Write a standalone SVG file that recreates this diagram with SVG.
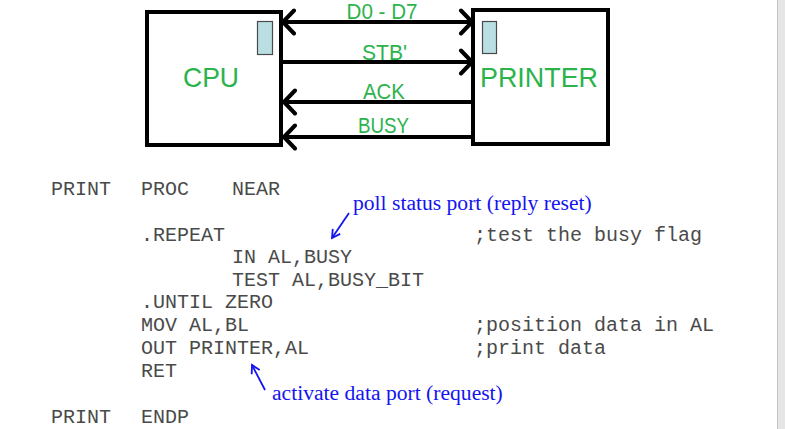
<svg xmlns="http://www.w3.org/2000/svg" width="785" height="429" viewBox="0 0 785 429">
<style>
.box{fill:#fff;stroke:#000;stroke-width:4}
.port{fill:#b9dfe2;stroke:#4a4a4a;stroke-width:1.2}
.big{font-family:"Liberation Sans",Arial,sans-serif;font-size:28px;fill:#2bb34c}
.lbl{font-family:"Liberation Sans",Arial,sans-serif;font-size:22px;fill:#2bb34c;text-anchor:middle}
.wire{stroke:#000;stroke-width:4;fill:none}
.code{font-family:"Liberation Mono","Courier New",monospace;font-size:20px;fill:#4a4a4a;white-space:pre}
.note{font-family:"Liberation Serif","Times New Roman",serif;font-size:21.6px;fill:#1414f0}
.narrow{stroke:#1414f0;stroke-width:1.8;fill:none}
</style>
<defs>
<marker id="chev" viewBox="-14 -14 16 28" markerWidth="16" markerHeight="28" refX="0" refY="0" orient="auto-start-reverse" markerUnits="userSpaceOnUse">
<path d="M-11,-11.5 L0,0 L-11,11.5" fill="none" stroke="#000" stroke-width="4" stroke-linecap="round" stroke-linejoin="round"/>
</marker>
<marker id="bhead" viewBox="-10 -7 12 14" markerWidth="12" markerHeight="14" refX="0" refY="0" orient="auto" markerUnits="userSpaceOnUse">
<path d="M-8,-4.5 L0,0 L-8,4.5" fill="none" stroke="#1414f0" stroke-width="1.8" stroke-linejoin="miter"/>
</marker>
</defs>
<rect width="785" height="429" fill="#fff"/>
<rect x="777" y="0" width="8" height="429" fill="#e6e6e6"/>
<line x1="777.5" y1="0" x2="777.5" y2="429" stroke="#c4c4c4" stroke-width="1"/>

<g id="cpu">
<rect class="box" x="147" y="12" width="134" height="133"/>
<rect class="port" x="257.5" y="21.5" width="15" height="33"/>
<text class="big" x="183" y="87" textLength="56" lengthAdjust="spacingAndGlyphs">CPU</text>
</g>
<g id="printer">
<rect class="box" x="473" y="10" width="135" height="134"/>
<rect class="port" x="482.5" y="21.5" width="14" height="32"/>
<text class="big" x="480" y="87" textLength="118" lengthAdjust="spacingAndGlyphs">PRINTER</text>
</g>

<g id="connectors">
<line class="wire" x1="283" y1="22" x2="472" y2="22" marker-start="url(#chev)" marker-end="url(#chev)"/>
<line class="wire" x1="283" y1="62" x2="472" y2="62" marker-end="url(#chev)"/>
<line class="wire" x1="471" y1="102" x2="284" y2="102" marker-end="url(#chev)"/>
<line class="wire" x1="471" y1="137" x2="284" y2="137" marker-end="url(#chev)"/>
<text class="lbl" x="382" y="19" textLength="71" lengthAdjust="spacingAndGlyphs">D0 - D7</text>
<text class="lbl" x="384.5" y="60" textLength="45" lengthAdjust="spacingAndGlyphs">STB'</text>
<text class="lbl" x="384" y="99" textLength="42" lengthAdjust="spacingAndGlyphs">ACK</text>
<text class="lbl" x="383.5" y="133" textLength="51" lengthAdjust="spacingAndGlyphs">BUSY</text>
</g>

<g id="code">
<text class="code" x="51" y="195">PRINT</text>
<text class="code" x="141" y="195">PROC</text>
<text class="code" x="232" y="195">NEAR</text>
<text class="code" x="141" y="241">.REPEAT</text>
<text class="code" x="474" y="241">;test the busy flag</text>
<text class="code" x="232" y="263">IN AL,BUSY</text>
<text class="code" x="232" y="286">TEST AL,BUSY_BIT</text>
<text class="code" x="141" y="308">.UNTIL ZERO</text>
<text class="code" x="141" y="331">MOV AL,BL</text>
<text class="code" x="474" y="331">;position data in AL</text>
<text class="code" x="141" y="354">OUT PRINTER,AL</text>
<text class="code" x="474" y="354">;print data</text>
<text class="code" x="141" y="377">RET</text>
<text class="code" x="51" y="423">PRINT</text>
<text class="code" x="141" y="423">ENDP</text>
</g>

<g id="annotations">
<line class="narrow" x1="349" y1="213" x2="332" y2="238" marker-end="url(#bhead)"/>
<text class="note" x="353" y="210">poll status port (reply reset)</text>
<line class="narrow" x1="265" y1="390" x2="252" y2="365" marker-end="url(#bhead)"/>
<text class="note" x="272" y="400">activate data port (request)</text>
</g>
</svg>
